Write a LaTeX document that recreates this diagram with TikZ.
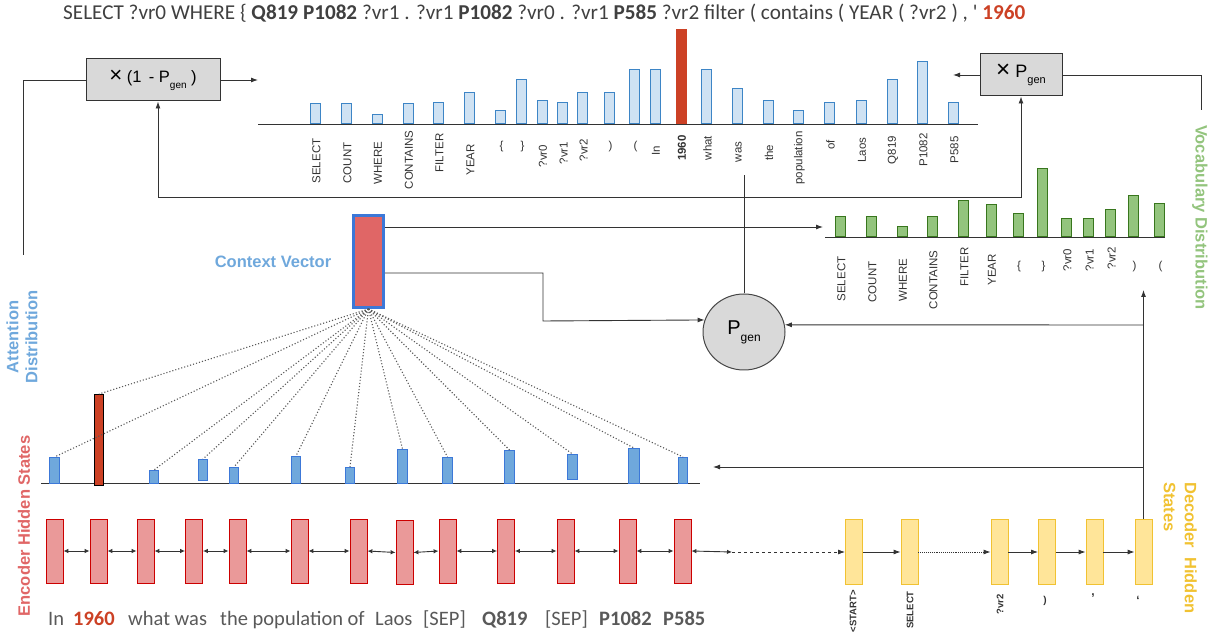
\documentclass[tikz,border=0pt]{standalone}
\usepackage{fontspec}
\setmainfont{Liberation Sans}
\newfontfamily\calfont{Carlito}
\usetikzlibrary{arrows.meta,shapes.geometric}
\definecolor{tbf}{HTML}{CFE2F3}
\definecolor{tbd}{HTML}{3D85C6}
\definecolor{hot}{HTML}{CC4125}
\definecolor{gbf}{HTML}{93C47D}
\definecolor{gbd}{HTML}{38761D}
\definecolor{abf}{HTML}{6FA8DC}
\definecolor{abd}{HTML}{3C78D8}
\definecolor{cvf}{HTML}{E06666}
\definecolor{encf}{HTML}{EA9999}
\definecolor{encd}{HTML}{CC0000}
\definecolor{decf}{HTML}{FFE599}
\definecolor{decd}{HTML}{F1C232}
\definecolor{boxf}{HTML}{D9D9D9}
\definecolor{ink}{HTML}{333333}
\definecolor{txt}{HTML}{404040}
\definecolor{stxt}{HTML}{595959}
\begin{document}
\begin{tikzpicture}[x=1pt,y=-1pt,
 line/.style={draw=ink,line width=0.9pt},
 arr/.style={line,-{Latex[length=7pt,width=5pt]}},
 darr/.style={line,{Latex[length=5pt,width=4.5pt]}-{Latex[length=5pt,width=4.5pt]}},
 tbar/.style={draw=tbd,fill=tbf,line width=1pt,inner sep=0pt,minimum width=10pt,anchor=south},
 gbar/.style={draw=gbd,fill=gbf,line width=1pt,inner sep=0pt,minimum width=10pt,anchor=south},
 abar/.style={draw=abd,fill=abf,line width=1pt,inner sep=0pt,anchor=north west},
 xlab/.style={inner sep=0pt,text=ink,font=\fontsize{11.5}{11.5}\selectfont},
 enc/.style={draw=encd,fill=encf,line width=0.8pt,minimum width=17pt,minimum height=64pt,inner sep=0pt},
 dec/.style={draw=decd,fill=decf,line width=0.8pt,minimum width=17pt,minimum height=65pt,inner sep=0pt},
 gbox/.style={draw=ink,fill=boxf,line width=1pt,inner sep=0pt},
 title/.style={font=\bfseries\fontsize{16.5}{19}\selectfont,inner sep=0pt},
 dots/.style={draw=black!65,dotted,line width=1.1pt},
 sent/.style={anchor=base west,inner sep=0pt,text=stxt,font=\calfont\fontsize{20.5}{24}\selectfont},
 bsent/.style={sent,font=\calfont\bfseries\fontsize{20.5}{24}\selectfont},
 dlab/.style={anchor=east,inner sep=0pt,text=ink,font=\bfseries\fontsize{9.5}{10}\selectfont},
]
\useasboundingbox (0,0) rectangle (1211,636);

% query text
\node[anchor=base west,inner sep=0pt,text=txt] (query) at (63,20) {\resizebox{962pt}{!}{\calfont\fontsize{17}{17}\selectfont SELECT ?vr0 WHERE \{ \textbf{Q819} \textbf{P1082} ?vr1 . ?vr1 \textbf{P1082} ?vr0 . ?vr1 \textbf{P585} ?vr2 filter ( contains ( YEAR ( ?vr2 ) , \textquotesingle\ \textcolor{hot}{\textbf{1960}}}};

% top (attention-copy) distribution
\draw[line] (258,124) -- (978,124);
\foreach \x/\t/\lab/\ly/\r [count=\i] in {315.5/104/SELECT/161/90, 346.5/104/COUNT/163/90, 377/115/WHERE/163/90, 408/104/CONTAINS/160/90, 438.5/103/FILTER/153/90, 469.5/93/YEAR/160/90, 500.5/111/\{/147/0, 521.5/80/\}/147/0, 542/101/?vr0/156/90, 562.5/103/?vr1/153/90, 582.5/93/?vr2/150/90, 609.5/93/)/147/0, 634.5/70/(/147/0, 655/70/In/151/90, 706.5/70/what/148/90, 737.5/89/was/152/90, 768/101/the/153/90, 798.5/111/population/158/90, 829.5/103/of/145/90, 861/101/Laos/150/90, 892/80/Q819/150/90, 922.5/62/P1082/150/90, 953.5/103/P585/150/90}
{
 \node[tbar,minimum height={124-\t}] (t\i) at (\x,124) {};
 \node[xlab,rotate=\r] (tl\i) at (\x+1,\ly) {\lab};
}
\node[tbar,draw=hot,fill=hot,minimum height=94] (tred) at (681,124) {};
\node[xlab,rotate=90,font=\bfseries\fontsize{11.5}{11.5}\selectfont] (tlred) at (682,148) {1960};

% vocabulary distribution
\draw[line] (825,237) -- (1165,237);
\foreach \x/\t/\lab/\ly/\r [count=\i] in {840.5/217/SELECT/279/90, 871.5/217/COUNT/282/90, 902/227/WHERE/280/90, 932.5/217/CONTAINS/280/90, 963.5/201/FILTER/267/90, 991/205/YEAR/270/90, 1018/214/\{/267/0, 1042.5/169/\}/267/0, 1066.5/219/?vr0/260/90, 1088.5/219/?vr1/260/90, 1110.5/210/?vr2/258/90, 1133.5/196/)/267/0, 1159.5/204/(/267/0}
{
 \node[gbar,minimum height={237-\t}] (g\i) at (\x,237) {};
 \node[xlab,rotate=\r] (gl\i) at (\x+1,\ly) {\lab};
}

% boxes
\node[gbox,minimum width=134pt,minimum height=42pt] (omb) at (153,80)
 {\fontsize{16.5}{16.5}\selectfont\scalebox{1.35}{×} (1 \,- P\raisebox{-6pt}{\fontsize{10}{10}\selectfont gen} )};
\node[gbox,minimum width=82pt,minimum height=42pt] (pgb) at (1021,75)
 {\fontsize{18}{18}\selectfont\scalebox{1.35}{×} P\raisebox{-6pt}{\fontsize{11}{11}\selectfont gen}};
\node[gbox,ellipse,draw=ink!90,minimum width=82pt,minimum height=76pt] (pgen) at (744,332)
 {\fontsize{20}{20}\selectfont P\raisebox{-7pt}{\fontsize{12}{12}\selectfont gen}};
\node[draw=abd,fill=cvf,line width=3pt,minimum width=30pt,minimum height=92pt,inner sep=0pt] (cv) at (368.5,261.5) {};

% titles
\node[title,text=abf] (cvlab) at (273,262) {Context Vector};
\node[title,text=abf,rotate=90,align=center] (adlab) at (22,337) {Attention\\Distribution};
\node[title,text=cvf,rotate=90] (ehlab) at (24,526) {Encoder Hidden States};
\node[title,text=gbf,rotate=-90] (vdlab) at (1200,217.5) {Vocabulary Distribution};
\node[title,text=decd,rotate=-90,align=left,anchor=north west,font=\bfseries\fontsize{16.5}{21}\selectfont] (dhlab) at (1197,482) {Decoder\ \ Hidden\\States};

% attention bars
\draw[line] (41,483) -- (700,483);
\foreach \n/\xl/\xr/\yt/\yb in {a1/49/59/457/483, a3/149/158/470/483, a4/198/207/459/480, a5/229/238/467/483, a6/291/300/456/483, a7/345/354/467/483, a8/397/407/449/483, a9/442/452/457/483, a10/504/514/450/483, a11/567/577/454/479, a12/628/639/448/483, a13/678/687/457/483}
{
 \node[abar,minimum width={\xr-\xl},minimum height={\yb-\yt}] (\n) at (\xl,\yt) {};
}
\node[abar,draw=black,fill=hot,minimum width=9pt,minimum height=91pt] (a2) at (94,394) {};
\foreach \n in {a1,a2,a3,a4,a5,a6,a7,a8,a9,a10,a11,a12,a13}
 \draw[dots] (cv.south) -- (\n.north);

% encoder cells
\foreach \n/\x/\y in {c1/54.5/551, c2/98.5/551, c3/145.5/551, c4/194/551, c5/237.5/551, c6/299.5/551, c7/358.5/551, c8/404.5/552.5, c9/447.5/551, c10/506/551, c11/565.5/551, c12/627.5/551, c13/682.5/551}
 \node[enc] (\n) at (\x,\y) {};
\foreach \a/\b in {c1/c2, c2/c3, c3/c4, c4/c5, c5/c6, c6/c7, c7/c8, c8/c9, c9/c10, c10/c11, c11/c12, c12/c13}
 \draw[darr] (\a.east) -- (\b.west);

% decoder cells
\foreach \n/\x in {d1/854, d2/909.5, d3/999.5, d4/1047, d5/1094.5, d6/1143.5}
 \node[dec] (\n) at (\x,552) {};
\coordinate (eout) at (732,552);
\draw[darr] (c13.east) -- (eout);
\draw[line,dashed,-{Latex[length=7pt,width=5pt]}] (eout) -- (d1.west);
\draw[arr] (d1.east) -- (d2.west);
\draw[line,densely dotted,-{Latex[length=7pt,width=5pt]}] (d2.east) -- (d3.west);
\draw[arr] (d3.east) -- (d4.west);
\draw[arr] (d4.east) -- (d5.west);
\draw[arr] (d5.east) -- (d6.west);

% decoder labels
\node[dlab,rotate=90] (dl1) at (853,590) {<START>};
\node[dlab,rotate=90] (dl2) at (910,591) {SELECT};
\node[dlab,rotate=90] (dl3) at (1000,594) {?vr2};
\node[inner sep=0pt,text=ink,font=\bfseries\fontsize{10}{10}\selectfont] (dl4) at (1045,601) {)};
\node[inner sep=0pt,text=ink,font=\bfseries\fontsize{12}{12}\selectfont] (dl5) at (1093,596) {,};
\node[inner sep=0pt,text=ink,font=\bfseries\fontsize{12}{12}\selectfont] (dl6) at (1138,600) {‘};

% sentence
\node[sent] (w1) at (48,625) {In};
\node[bsent,text=hot] (w2) at (73,625) {1960};
\node[sent] (w3) at (128,625) {what was};
\node[sent] (w4) at (220,625) {the population of};
\node[sent] (w5) at (375,625) {Laos};
\node[sent] (w5b) at (423,625) {[SEP]};
\node[bsent] (w6) at (482,625) {Q819};
\node[sent] (w7) at (545,625) {[SEP]};
\node[bsent] (w8) at (599,625) {P1082};
\node[bsent] (w9) at (663,625) {P585};

% connectors
\coordinate (attn) at (23,255);
\coordinate (tchl) at (258,80);
\coordinate (tchr) at (953,75);
\coordinate (vocab) at (1201,110);
\coordinate (ptop) at (744,175);
\coordinate (split) at (744,197);
\coordinate (vin) at (823,227);
\coordinate (bend) at (543,321);
\coordinate (dtop) at (1143.5,290);
\coordinate (j1) at (1143.5,325);
\coordinate (j2) at (1143.5,467);
\coordinate (ain) at (713,467);
\draw[line] (omb.west) -| (attn);
\draw[arr] (omb.east) -- (tchl);
\draw[arr] (pgb.west) -- (tchr);
\draw[line] (pgb.east) -| (vocab);
\draw[line] (pgen.north) -- (ptop);
\draw[arr] (split) -| ([xshift=5pt]omb.south);
\draw[arr] (split) -| (pgb.south);
\draw[arr] ([yshift=34.5pt]cv.east) -- (vin);
\draw[arr] ([yshift=-11.5pt]cv.east) -| (bend) -- (pgen.163);
\draw[arr] (d6.north) -- (dtop);
\draw[arr] (j1) -- (pgen.10);
\draw[arr] (j2) -- (ain);
\end{tikzpicture}
\end{document}
